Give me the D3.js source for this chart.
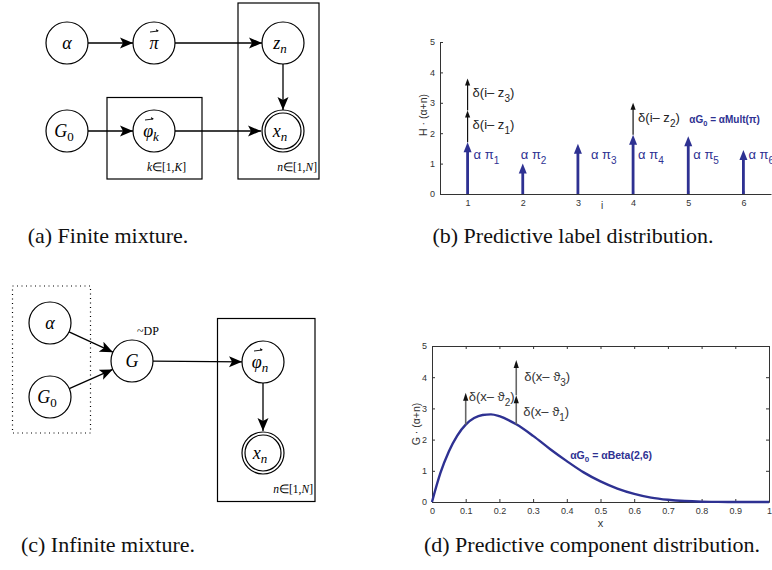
<!DOCTYPE html>
<html>
<head>
<meta charset="utf-8">
<script src="https://cdn.jsdelivr.net/npm/d3@7"></script>
<style>
  body { margin: 0; background: #fff; }
  svg text { font-family: "Liberation Sans", Arial, sans-serif; }
  .serif { font-family: "Liberation Serif", "Times New Roman", serif; }
</style>
</head>
<body>
<svg id="fig" width="772" height="570"></svg>
<script>
// ---- (b) predictive label distribution ----
const LABELS = [1, 2, 3, 4, 5, 6];
const ALPHA_PI = [1.7, 1.0, 1.65, 1.95, 1.9, 1.45];
// observed labels stacked on top of the base measure
const LABEL_DELTAS = [
  { i: 1, from: 1.7, to: 2.75, sub: '1' },
  { i: 1, from: 2.75, to: 3.8, sub: '3' },
  { i: 4, from: 1.95, to: 3.0, sub: '2' }
];
const B_Y_TICKS = [0, 1, 2, 3, 4, 5];

// ---- (d) predictive component distribution ----
const X_SAMPLES = [0, 0.025, 0.05, 0.075, 0.1, 0.125, 0.15, 0.175, 0.2, 0.25, 0.3, 0.35,
  0.4, 0.45, 0.5, 0.55, 0.6, 0.65, 0.7, 0.75, 0.8, 0.85, 0.9, 1];
const BASE_DENSITY = [0, 0.93, 1.62, 2.13, 2.48, 2.69, 2.79, 2.81, 2.75, 2.49, 2.12, 1.7,
  1.31, 0.95, 0.66, 0.43, 0.26, 0.14, 0.07, 0.03, 0.01, 0.003, 0, 0];
const COMP_DELTAS = [
  { x: 0.1, from: 2.48, to: 3.5, sub: '2' },
  { x: 0.25, from: 2.49, to: 3.42, sub: '1' },
  { x: 0.25, from: 3.42, to: 4.55, sub: '3' }
];
const D_X_TICKS = [0, 0.1, 0.2, 0.3, 0.4, 0.5, 0.6, 0.7, 0.8, 0.9, 1];
const D_Y_TICKS = [0, 1, 2, 3, 4, 5];

const BLUE = '#2e3192';
const AXIS = '#333';

const svg = d3.select('#fig');
svg.append('rect').attr('width', 772).attr('height', 570).attr('fill', '#fff');

// arrow head for the graphical models
svg.append('defs').append('marker')
  .attr('id', 'head')
  .attr('markerUnits', 'userSpaceOnUse')
  .attr('viewBox', '-13 -6 14 12')
  .attr('refX', 0).attr('refY', 0)
  .attr('markerWidth', 14).attr('markerHeight', 12)
  .attr('orient', 'auto')
  .append('path')
  .attr('d', 'M0,0 L-13,-5.5 L-10,0 L-13,5.5 Z')
  .attr('fill', '#000');

// small helpers for graphical model
function node(g, n) {
  g.append('circle').attr('cx', n.x).attr('cy', n.y).attr('r', 21)
    .attr('fill', '#fff').attr('stroke', '#000').attr('stroke-width', 1.2);
  if (n.observed) {
    g.append('circle').attr('cx', n.x).attr('cy', n.y).attr('r', 18)
      .attr('fill', 'none').attr('stroke', '#000').attr('stroke-width', 1.2);
  }
  const t = g.append('text').attr('class', 'serif')
    .attr('x', n.x + (n.sub ? -3 : 0)).attr('y', n.y + 6)
    .attr('text-anchor', 'middle').style('font-size', '18px');
  t.append('tspan').style('font-style', 'italic').text(n.sym);
  if (n.sub) {
    t.append('tspan').attr('dy', 4).style('font-size', '13px')
      .style('font-style', n.subItalic ? 'italic' : 'normal').text(n.sub);
  }
  if (n.vec) {
    const vx = n.x + (n.sub ? -5 : 0), vy = n.y - 11;
    g.append('line').attr('x1', vx - 4).attr('x2', vx + 4).attr('y1', vy).attr('y2', vy - 1)
      .attr('stroke', '#000').attr('stroke-width', 0.9);
    g.append('path').attr('d', `M${vx + 5},${vy - 1} l-3,-2 l0.5,2.6 Z`).attr('fill', '#000');
  }
}

function edge(g, a, b, r1 = 21, r2 = 21) {
  const dx = b.x - a.x, dy = b.y - a.y, L = Math.hypot(dx, dy);
  g.append('line')
    .attr('x1', a.x + dx / L * r1).attr('y1', a.y + dy / L * r1)
    .attr('x2', b.x - dx / L * r2).attr('y2', b.y - dy / L * r2)
    .attr('stroke', '#000').attr('stroke-width', 1.3)
    .attr('marker-end', 'url(#head)');
}

function plateLabel(g, x, y, idx, up) {
  const t = g.append('text').attr('class', 'serif').attr('x', x).attr('y', y)
    .attr('text-anchor', 'end').style('font-size', '11.5px');
  t.append('tspan').style('font-style', 'italic').text(idx);
  t.append('tspan').text('\u2208[1,');
  t.append('tspan').style('font-style', 'italic').text(up);
  t.append('tspan').text(']');
}

// ---- (a) finite mixture ----
const ga = svg.append('g');
const A = {
  alpha: { x: 67, y: 43, sym: '\u03b1' },
  pi: { x: 154, y: 43, sym: '\u03c0', vec: true },
  z: { x: 283, y: 43, sym: 'z', sub: 'n', subItalic: true },
  g0: { x: 67, y: 131, sym: 'G', sub: '0' },
  phi: { x: 154, y: 131, sym: '\u03c6', sub: 'k', subItalic: true, vec: true },
  x: { x: 283, y: 131, sym: 'x', sub: 'n', subItalic: true, observed: true }
};
ga.append('rect').attr('x', 107).attr('y', 97.5).attr('width', 95).attr('height', 81.5)
  .attr('fill', 'none').attr('stroke', '#000').attr('stroke-width', 1.2);
ga.append('rect').attr('x', 238).attr('y', 3).attr('width', 81).attr('height', 176)
  .attr('fill', 'none').attr('stroke', '#000').attr('stroke-width', 1.2);
edge(ga, A.alpha, A.pi);
edge(ga, A.pi, A.z);
edge(ga, A.z, A.x);
edge(ga, A.g0, A.phi);
edge(ga, A.phi, A.x, 21, 22);
Object.values(A).forEach(n => node(ga, n));
plateLabel(ga, 186, 171, 'k', 'K');
plateLabel(ga, 317, 171, 'n', 'N');

// ---- (c) infinite mixture ----
const gc = svg.append('g');
const C = {
  alpha: { x: 50, y: 323, sym: '\u03b1' },
  g0: { x: 50, y: 397, sym: 'G', sub: '0' },
  G: { x: 132, y: 361, sym: 'G' },
  phi: { x: 263, y: 362, sym: '\u03c6', sub: 'n', subItalic: true, vec: true },
  x: { x: 263, y: 453, sym: 'x', sub: 'n', subItalic: true, observed: true }
};
gc.append('rect').attr('x', 12.5).attr('y', 286).attr('width', 78).attr('height', 147)
  .attr('fill', 'none').attr('stroke', '#000').attr('stroke-width', 1.2)
  .attr('stroke-dasharray', '1 3.5');
gc.append('rect').attr('x', 217.5).attr('y', 318.5).attr('width', 97.5).attr('height', 183)
  .attr('fill', 'none').attr('stroke', '#000').attr('stroke-width', 1.2);
edge(gc, C.alpha, C.G);
edge(gc, C.g0, C.G);
edge(gc, C.G, C.phi);
edge(gc, C.phi, C.x, 21, 22);
Object.values(C).forEach(n => node(gc, n));
gc.append('text').attr('class', 'serif').attr('x', 137).attr('y', 335)
  .style('font-size', '12px').text('~DP');
plateLabel(gc, 313, 493, 'n', 'N');

// ---- stem arrow helper for the plots ----
function stem(g, x, y0, y1, o) {
  g.append('line').attr('x1', x).attr('x2', x).attr('y1', y0).attr('y2', y1 + o.len - 1)
    .attr('stroke', o.stroke).attr('stroke-width', o.width);
  g.append('path')
    .attr('d', `M${x},${y1} L${x - o.half},${y1 + o.len} L${x + o.half},${y1 + o.len} Z`)
    .attr('fill', o.head);
}

function subLabel(g, x, y, main, sub, tail, o) {
  const t = g.append('text').attr('x', x).attr('y', y)
    .style('font-size', o.size + 'px').attr('fill', o.fill)
    .style('font-weight', o.bold ? 'bold' : 'normal');
  t.append('tspan').text(main);
  t.append('tspan').attr('dy', o.drop).style('font-size', o.subSize + 'px').text(sub);
  if (tail) t.append('tspan').attr('dy', -o.drop).text(tail);
  return t;
}

function styleAxis(a) {
  a.select('.domain').attr('stroke', AXIS);
  a.selectAll('.tick line').attr('stroke', AXIS);
  a.selectAll('text').attr('fill', AXIS).style('font-size', '9px');
}

// ---- (b) plot ----
const xB = d3.scaleLinear().domain([0.5, 6.5]).range([440, 771]);
const yB = d3.scaleLinear().domain([0, 5]).range([194, 42]);
const gb = svg.append('g');

gb.append('g').attr('transform', 'translate(0,194)')
  .call(d3.axisBottom(xB).tickValues(LABELS).tickFormat(d3.format('d'))
    .tickSize(-3).tickSizeOuter(0).tickPadding(6))
  .call(styleAxis);
gb.append('g').attr('transform', 'translate(440,0)')
  .call(d3.axisLeft(yB).tickValues(B_Y_TICKS).tickFormat(d3.format('d'))
    .tickSize(-3).tickSizeOuter(0).tickPadding(5))
  .call(styleAxis);

gb.append('text').attr('transform', `translate(427,${yB(2.6)}) rotate(-90)`)
  .attr('text-anchor', 'middle').attr('fill', AXIS).style('font-size', '10.5px')
  .text('H \u00b7 (\u03b1+n)');
gb.append('text').attr('x', xB(3.42)).attr('y', 209).attr('fill', AXIS)
  .style('font-size', '10px').text('i');

LABEL_DELTAS.forEach(d => {
  stem(gb, xB(d.i), yB(d.from), yB(d.to), { stroke: '#111', width: 1.2, head: '#111', half: 2.6, len: 7 });
});
LABELS.forEach((l, k) => {
  stem(gb, xB(l), yB(0), yB(ALPHA_PI[k]), { stroke: BLUE, width: 2.8, head: BLUE, half: 4, len: 10 });
});

// label offsets (layout only)
const PI_LABEL_DX = [6, -2, 13, 5, 5, 5];
LABELS.forEach((l, k) => {
  subLabel(gb, xB(l) + PI_LABEL_DX[k], yB(1.15), '\u03b1 \u03c0', String(l), null,
    { size: 13, subSize: 10, drop: 5, fill: BLUE });
});
LABEL_DELTAS.forEach(d => {
  const mid = (yB(d.from) + yB(d.to)) / 2;
  subLabel(gb, xB(d.i) + 5, mid + 3, '\u03b4(i\u2013 z', d.sub, ')',
    { size: 13, subSize: 10, drop: 5, fill: '#222' });
});
subLabel(gb, xB(5.02), 123, '\u03b1G', '0', ' = \u03b1Mult(\u03c0)',
  { size: 10, subSize: 7.5, drop: 3, fill: BLUE, bold: true });

// ---- (d) plot ----
const xD = d3.scaleLinear().domain([0, 1]).range([432, 769]);
const yD = d3.scaleLinear().domain([0, 5]).range([502, 346]);
const gd = svg.append('g');

gd.append('g').attr('transform', 'translate(0,502)')
  .call(d3.axisBottom(xD).tickValues(D_X_TICKS).tickFormat(d3.format('')).tickSize(-3).tickSizeOuter(0).tickPadding(6))
  .call(styleAxis);
gd.append('g').attr('transform', 'translate(0,346)')
  .call(d3.axisTop(xD).tickValues(D_X_TICKS).tickFormat('').tickSize(-3).tickSizeOuter(0))
  .call(styleAxis);
gd.append('g').attr('transform', 'translate(432,0)')
  .call(d3.axisLeft(yD).tickValues(D_Y_TICKS).tickFormat(d3.format('d')).tickSize(-3).tickSizeOuter(0).tickPadding(5))
  .call(styleAxis);
gd.append('g').attr('transform', 'translate(769,0)')
  .call(d3.axisRight(yD).tickValues(D_Y_TICKS).tickFormat('').tickSize(-3).tickSizeOuter(0))
  .call(styleAxis);

gd.append('text').attr('transform', `translate(420,${yD(2.5)}) rotate(-90)`)
  .attr('text-anchor', 'middle').attr('fill', AXIS).style('font-size', '10.5px')
  .text('G \u00b7 (\u03b1+n)');
gd.append('text').attr('x', xD(0.5)).attr('y', 527).attr('text-anchor', 'middle')
  .attr('fill', AXIS).style('font-size', '11px').text('x');

const line = d3.line().x((d, k) => xD(X_SAMPLES[k])).y(d => yD(d)).curve(d3.curveMonotoneX);
gd.append('path').datum(BASE_DENSITY).attr('d', line)
  .attr('fill', 'none').attr('stroke', BLUE).attr('stroke-width', 2.4);

COMP_DELTAS.forEach(d => {
  stem(gd, xD(d.x), yD(d.from), yD(d.to), { stroke: '#666', width: 1.6, head: '#111', half: 2.6, len: 8 });
});
// label placement (layout only)
const COMP_LABEL_DX = [3, 7, 8];
const COMP_LABEL_Y = [401, 416, 381];
COMP_DELTAS.forEach((d, k) => {
  subLabel(gd, xD(d.x) + COMP_LABEL_DX[k], COMP_LABEL_Y[k], '\u03b4(x\u2013 \u03d1', d.sub, ')',
    { size: 13, subSize: 10, drop: 5, fill: '#333' });
});
subLabel(gd, xD(0.41), 459, '\u03b1G', '0', ' = \u03b1Beta(2,6)',
  { size: 10.5, subSize: 8, drop: 3, fill: BLUE, bold: true });

// ---- captions ----
const captions = [
  { x: 108, y: 243, t: '(a) Finite mixture.' },
  { x: 573, y: 243, t: '(b) Predictive label distribution.' },
  { x: 108, y: 552, t: '(c) Infinite mixture.' },
  { x: 592, y: 552, t: '(d) Predictive component distribution.' }
];
svg.selectAll('text.cap').data(captions).enter().append('text')
  .attr('class', 'cap serif').attr('x', d => d.x).attr('y', d => d.y)
  .attr('text-anchor', 'middle').style('font-size', '22px').attr('fill', '#111')
  .text(d => d.t);
</script>
</body>
</html>
